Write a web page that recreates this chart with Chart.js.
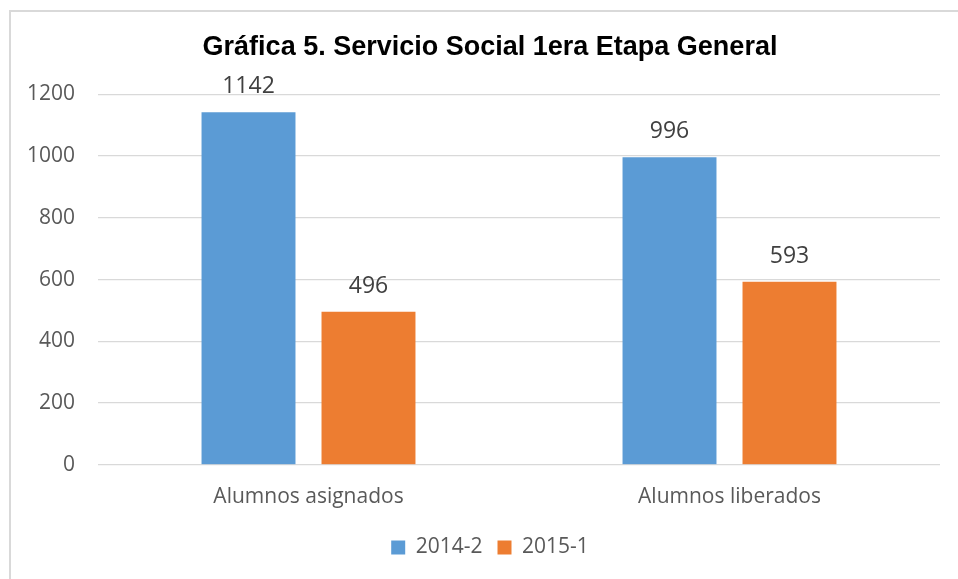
<!DOCTYPE html>
<html>
<head>
<meta charset="utf-8">
<script src="https://cdn.jsdelivr.net/npm/chart.js@4/dist/chart.umd.min.js"></script>
<style>
  body { margin: 0; overflow: hidden; background: #fff; width: 958px; height: 579px; position: relative; }
  #frame { position: absolute; left: 9px; top: 10px; width: 980px; height: 620px; border: 2px solid #d9d9d9; box-sizing: border-box; pointer-events: none; }
  #chart { position: absolute; left: 0; top: 0; }
</style>
</head>
<body>
<canvas id="chart" width="971" height="579"></canvas>
<div id="frame"></div>
<script>
var titulo = "Gráfica 5. Servicio Social 1era Etapa General";
var categorias = ["Alumnos asignados", "Alumnos liberados"];
var periodos = ["2014-2", "2015-1"];
var valores2014 = [1142, 996];
var valores2015 = [496, 593];
var colores = ["#5B9BD5", "#ED7D31"];

// etiquetas de valor arriba de cada barra
var etiquetasBarras = {
  id: "etiquetasBarras",
  afterDatasetsDraw: function(chart){
    var ctx = chart.ctx;
    ctx.save();
    ctx.font = "23px 'Open Sans'";
    ctx.fillStyle = "#404040";
    ctx.textAlign = "center";
    ctx.textBaseline = "alphabetic";
    chart.data.datasets.forEach(function(ds, i){
      chart.getDatasetMeta(i).data.forEach(function(bar, j){
        ctx.fillText(ds.data[j], bar.x, bar.y - 19);
      });
    });
    ctx.restore();
  }
};

var ctx = document.getElementById("chart");
var miGrafica = new Chart(ctx, {
  type: "bar",
  data: {
    labels: categorias,
    datasets: [
      { label: periodos[0], data: valores2014, backgroundColor: colores[0], yAxisID: "y" },
      { label: periodos[1], data: valores2015, backgroundColor: colores[1], yAxisID: "y" }
    ]
  },
  options: {
    responsive: false,
    animation: false,
    devicePixelRatio: 1,
    categoryPercentage: 0.57,
    barPercentage: 0.783,
    layout: { padding: { left: 9, right: 0, top: 10, bottom: 11 } },
    plugins: {
      title: {
        display: true,
        text: titulo,
        color: "#000",
        font: { family: "'Liberation Sans', Arial", size: 27, weight: "bold" },
        padding: { top: 21, bottom: 31 }
      },
      legend: {
        position: "bottom",
        labels: {
          boxWidth: 14,
          boxHeight: 14,
          padding: 15,
          color: "#595959",
          font: { family: "'Open Sans'", size: 21 }
        }
      },
      tooltip: { enabled: false }
    },
    scales: {
      x: {
        grid: { display: false },
        border: { display: false },
        ticks: { color: "#595959", font: { family: "'Open Sans'", size: 21 }, padding: 12 }
      },
      y: {
        min: 0,
        max: 1200,
        ticks: {
          stepSize: 200,
          color: "#595959",
          font: { family: "'Open Sans'", size: 21 },
          padding: 23,
          callback: function(v){ return String(v); }
        },
        grid: { color: "#d9d9d9", lineWidth: 1.3, drawTicks: false },
        border: { display: false },
        afterFit: function(s){ s.width = 89; }
      },
      y2: {
        position: "right",
        grid: { display: false },
        border: { display: false },
        ticks: { display: false },
        afterFit: function(s){ s.width = 31; }
      }
    }
  },
  plugins: [etiquetasBarras]
});
</script>
</body>
</html>
